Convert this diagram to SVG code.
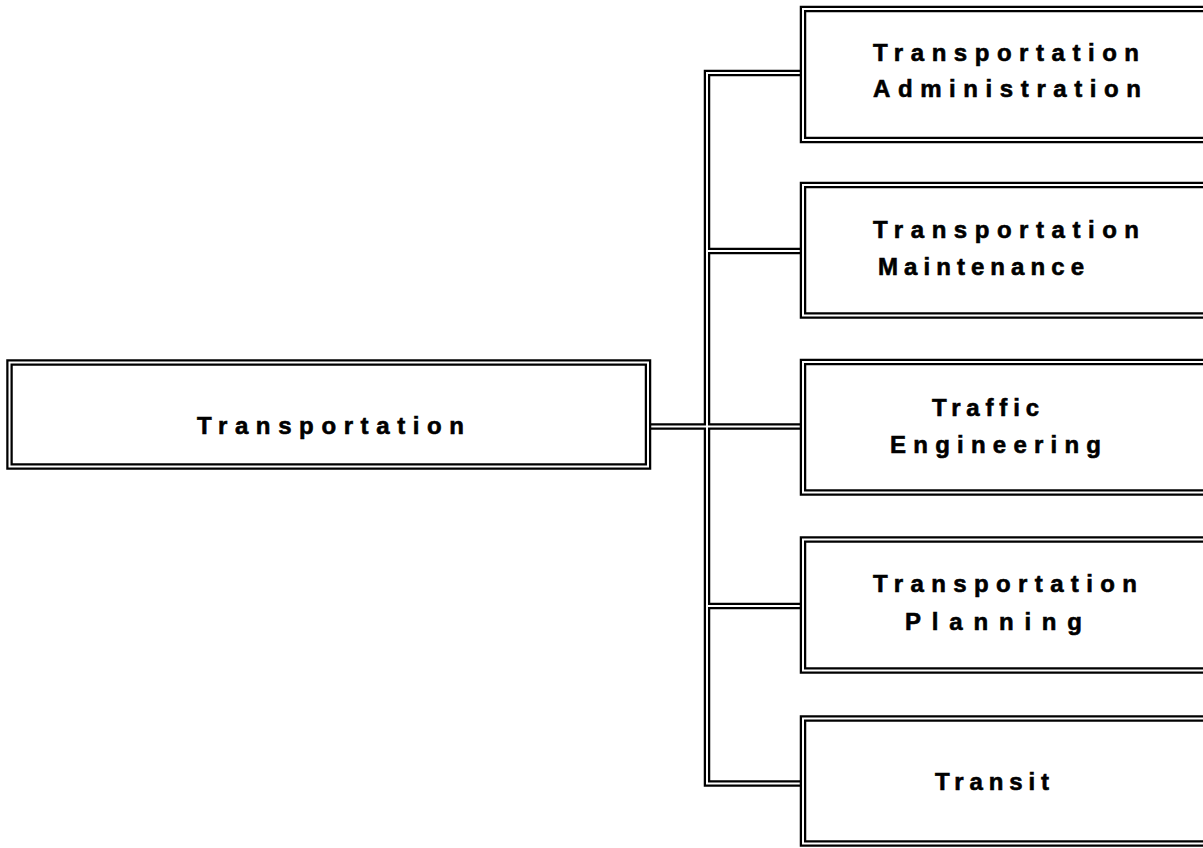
<svg xmlns="http://www.w3.org/2000/svg" width="1203" height="848" viewBox="0 0 1203 848">
<style>
.ob{fill:none;stroke:#000;stroke-width:6.5}
.ow{fill:none;stroke:#fff;stroke-width:2}
.cb{fill:none;stroke:#000;stroke-width:6.5;stroke-linejoin:miter}
.cw{fill:none;stroke:#fff;stroke-width:2;stroke-linejoin:miter}
.t{font-family:"Liberation Sans",Arial,sans-serif;font-weight:bold;font-size:24px;fill:#000;stroke:#000;stroke-width:0.6}
</style>
<rect width="1203" height="848" fill="#fff"/>
<g id="connectors">
<path class="cb" d="M803,73 H707 V783.5 H803 M707,251 H803 M648,426.5 H803 M707,606 H803"/>
<path class="cw" d="M803,73 H707 V783.5 H803 M707,251 H803 M648,426.5 H803 M707,606 H803"/>
</g>
<g id="transportation">
<rect class="ob" x="9.5" y="362.5" width="638.5" height="104"/>
<rect class="ow" x="9.5" y="362.5" width="638.5" height="104"/>
<text class="t" x="197" y="434" textLength="267" lengthAdjust="spacing">Transportation</text>
</g>
<g id="admin">
<rect class="ob" x="803" y="9" width="420" height="131"/>
<rect class="ow" x="803" y="9" width="420" height="131"/>
<text class="t" x="873" y="61" textLength="266" lengthAdjust="spacing">Transportation</text>
<text class="t" x="873" y="97" textLength="268" lengthAdjust="spacing">Administration</text>
</g>
<g id="maintenance">
<rect class="ob" x="803" y="185" width="420" height="130.5"/>
<rect class="ow" x="803" y="185" width="420" height="130.5"/>
<text class="t" x="873" y="238" textLength="266" lengthAdjust="spacing">Transportation</text>
<text class="t" x="878" y="275" textLength="206" lengthAdjust="spacing">Maintenance</text>
</g>
<g id="traffic">
<rect class="ob" x="803" y="362" width="420" height="130.5"/>
<rect class="ow" x="803" y="362" width="420" height="130.5"/>
<text class="t" x="932" y="416" textLength="107" lengthAdjust="spacing">Traffic</text>
<text class="t" x="890" y="453" textLength="211" lengthAdjust="spacing">Engineering</text>
</g>
<g id="planning">
<rect class="ob" x="803" y="539.5" width="420" height="131"/>
<rect class="ow" x="803" y="539.5" width="420" height="131"/>
<text class="t" x="873" y="592" textLength="264" lengthAdjust="spacing">Transportation</text>
<text class="t" x="905" y="630" textLength="177" lengthAdjust="spacing">Planning</text>
</g>
<g id="transit">
<rect class="ob" x="803" y="718.5" width="420" height="125"/>
<rect class="ow" x="803" y="718.5" width="420" height="125"/>
<text class="t" x="935" y="790" textLength="114" lengthAdjust="spacing">Transit</text>
</g>
</svg>
